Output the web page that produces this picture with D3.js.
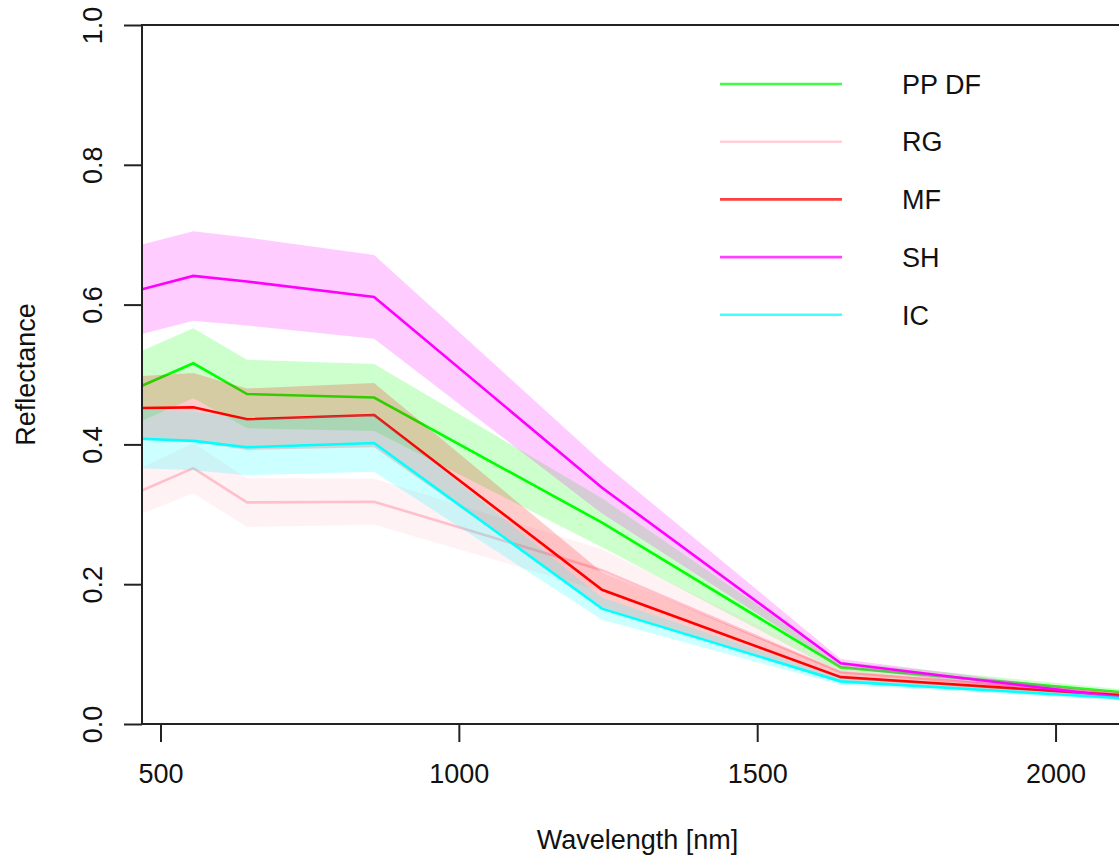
<!DOCTYPE html>
<html>
<head>
<meta charset="utf-8">
<script src="https://cdn.jsdelivr.net/npm/d3@7"></script>
<style>
  html, body { margin: 0; padding: 0; background: #fff; }
  svg { display: block; }
  text { font-family: "Liberation Sans", Arial, sans-serif; fill: #111; }
</style>
</head>
<body>
<svg id="chart" width="1119" height="857"></svg>
<script>
// ---- data ----
const wavelengths = [469, 555, 645, 858, 1240, 1640, 2130];
const classNames  = ["PP DF", "RG", "MF", "SH", "IC"];
const classColors = ["#00ff00", "#ffc0cb", "#ff0000", "#ff00ff", "#00ffff"];

const meanPPDF = [0.484, 0.516, 0.472, 0.467, 0.288, 0.081, 0.044];
const sdPPDF   = [0.050, 0.050, 0.049, 0.048, 0.035, 0.008, 0.004];
const meanRG   = [0.334, 0.366, 0.317, 0.318, 0.220, 0.074, 0.041];
const sdRG     = [0.033, 0.036, 0.035, 0.033, 0.030, 0.010, 0.004];
const meanMF   = [0.452, 0.453, 0.436, 0.442, 0.192, 0.067, 0.040];
const sdMF     = [0.046, 0.049, 0.044, 0.046, 0.025, 0.008, 0.004];
const meanSH   = [0.622, 0.641, 0.633, 0.611, 0.338, 0.087, 0.036];
const sdSH     = [0.064, 0.064, 0.063, 0.060, 0.037, 0.006, 0.004];
const meanIC   = [0.408, 0.405, 0.396, 0.402, 0.165, 0.061, 0.036];
const sdIC     = [0.042, 0.042, 0.040, 0.041, 0.016, 0.005, 0.003];

const xTicks = [500, 1000, 1500, 2000];
const yTicks = [0.0, 0.2, 0.4, 0.6, 0.8, 1.0];
const xTitle = "Wavelength [nm]";
const yTitle = "Reflectance";

(function () {
const series = [
  { name: classNames[0], color: classColors[0], mean: meanPPDF, sd: sdPPDF },
  { name: classNames[1], color: classColors[1], mean: meanRG,   sd: sdRG },
  { name: classNames[2], color: classColors[2], mean: meanMF,   sd: sdMF },
  { name: classNames[3], color: classColors[3], mean: meanSH,   sd: sdSH },
  { name: classNames[4], color: classColors[4], mean: meanIC,   sd: sdIC }
];

// ---- layout ----
const pLeft = 142, pTop = 25, pBottom = 724;
const pxPerNm = 0.5967;
const pRight = pLeft + (wavelengths[wavelengths.length - 1] - wavelengths[0]) * pxPerNm;

const svg = d3.select("#chart");
const x = d3.scaleLinear().domain([wavelengths[0], wavelengths[wavelengths.length - 1]]).range([pLeft, pRight]);
const y = d3.scaleLinear().domain([0, 1]).range([pBottom, pTop]);

svg.append("defs").append("clipPath").attr("id", "plotclip")
  .append("rect").attr("x", pLeft).attr("y", pTop).attr("width", pRight - pLeft).attr("height", pBottom - pTop);

const plot = svg.append("g").attr("clip-path", "url(#plotclip)");

const area = d3.area()
  .x((d, i) => x(wavelengths[i]))
  .y0(d => y(d[0] - d[1]))
  .y1(d => y(d[0] + d[1]));
const line = d3.line()
  .x((d, i) => x(wavelengths[i]))
  .y(d => y(d));

series.forEach(s => {
  const pairs = s.mean.map((m, i) => [m, s.sd[i]]);
  plot.append("path").attr("d", area(pairs))
    .attr("fill", s.color).attr("fill-opacity", 0.2).attr("stroke", "none");
  plot.append("path").attr("d", line(s.mean))
    .attr("fill", "none").attr("stroke", s.color).attr("stroke-width", 2.6)
    .attr("stroke-linejoin", "miter");
});

// ---- box ----
svg.append("rect").attr("x", pLeft).attr("y", pTop).attr("width", pRight - pLeft).attr("height", pBottom - pTop)
  .attr("fill", "none").attr("stroke", "#222").attr("stroke-width", 2);

// ---- axes ----
const xAxis = d3.axisBottom(x).tickValues(xTicks).tickSize(18).tickPadding(22).tickFormat(d3.format("d"));
const gx = svg.append("g").attr("transform", `translate(0,${pBottom})`).call(xAxis);
gx.select(".domain").remove();
gx.selectAll(".tick line").attr("stroke", "#222").attr("stroke-width", 2);
gx.selectAll(".tick text").attr("font-size", 27).attr("font-family", "Liberation Sans, Arial, sans-serif").attr("fill", "#111");

const yAxis = d3.axisLeft(y).tickValues(yTicks).tickSize(18).tickFormat(d3.format(".1f"));
const gy = svg.append("g").attr("transform", `translate(${pLeft},0)`).call(yAxis);
gy.select(".domain").remove();
gy.selectAll(".tick line").attr("stroke", "#222").attr("stroke-width", 2);
gy.selectAll(".tick text")
  .attr("font-size", 27).attr("font-family", "Liberation Sans, Arial, sans-serif").attr("fill", "#111")
  .attr("x", null).attr("dy", null)
  .attr("text-anchor", "middle")
  .attr("transform", `translate(-40,0) rotate(-90)`);

// ---- titles ----
svg.append("text").attr("x", (pLeft + pRight) / 2).attr("y", 849)
  .attr("text-anchor", "middle").attr("font-size", 27).text(xTitle);
svg.append("text").attr("transform", `translate(35,${(pTop + pBottom) / 2}) rotate(-90)`)
  .attr("text-anchor", "middle").attr("font-size", 27).text(yTitle);

// ---- legend ----
const leg = svg.append("g");
series.forEach((s, i) => {
  const ly = 84 + i * 57.7;
  leg.append("line").attr("x1", 720).attr("x2", 842).attr("y1", ly).attr("y2", ly)
    .attr("stroke", s.color).attr("stroke-width", 2.6).attr("stroke-opacity", 0.75);
  leg.append("text").attr("x", 902).attr("y", ly).attr("dy", "0.36em")
    .attr("font-size", 27).text(s.name);
});
})();
</script>
</body>
</html>
